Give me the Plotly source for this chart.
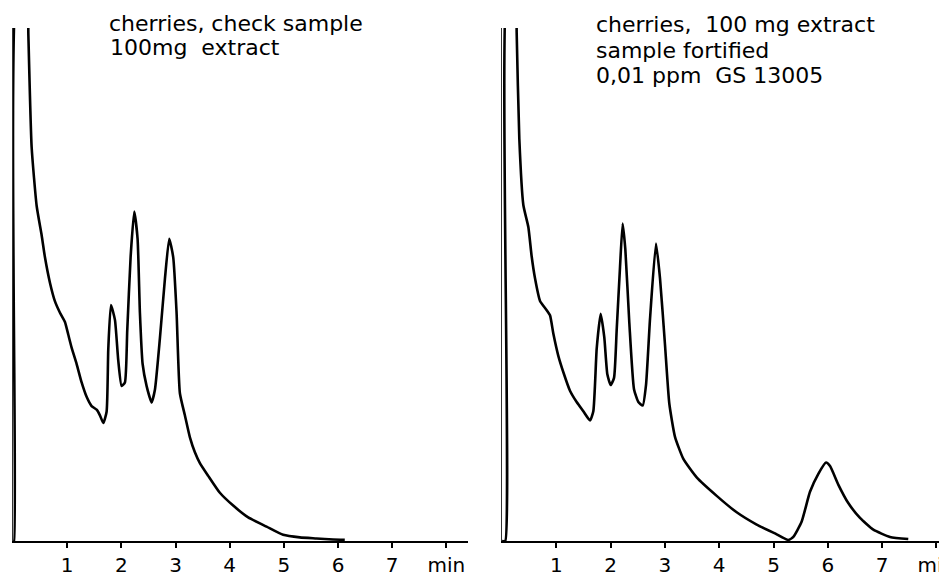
import plotly.graph_objects as go
from plotly.subplots import make_subplots

# retention time (min) and detector response (% of full scale)
check_t = [0.0, 0.02, 0.09, 0.26, 0.283, 0.344, 0.437, 0.529, 0.590, 0.683, 0.775, 0.867,
           0.959, 1.021, 1.082, 1.175, 1.267, 1.359, 1.451, 1.544, 1.605, 1.667, 1.728,
           1.759, 1.808, 1.882, 1.943, 2.005, 2.066, 2.109, 2.171, 2.238, 2.300, 2.343,
           2.393, 2.467, 2.559, 2.620, 2.712, 2.804, 2.884, 2.958, 3.020, 3.081, 3.173,
           3.266, 3.358, 3.450, 3.604, 3.819, 4.065, 4.342, 4.681, 4.987, 5.295, 5.603,
           5.910, 6.125]
check_v = [0.0, 0.0, 110, 110, 99.0, 76.8, 65.3, 59.6, 55.3, 50.3, 46.7, 44.5,
           42.7, 40.2, 37.7, 34.5, 30.9, 28.1, 26.3, 25.6, 24.5, 23.0, 25.2,
           37.4, 46.0, 43.1, 35.2, 30.2, 30.9, 41.0, 55.3, 64.2, 58.9, 44.5,
           34.5, 30.2, 27.0, 29.5, 39.5, 51.0, 58.9, 55.3, 44.5, 28.8, 24.5,
           20.2, 17.3, 15.2, 12.7, 9.4, 6.9, 4.6, 2.8, 1.2, 0.7, 0.5,
           0.3, 0.25]

fort_t = [0.0, 0.06, 0.11, 0.25, 0.27, 0.319, 0.393, 0.485, 0.546, 0.608, 0.700, 0.823,
          0.884, 0.946, 1.037, 1.130, 1.252, 1.375, 1.498, 1.621, 1.682, 1.744, 1.817,
          1.884, 1.940, 2.002, 2.063, 2.112, 2.173, 2.222, 2.271, 2.345, 2.431, 2.511,
          2.591, 2.652, 2.726, 2.836, 2.910, 3.002, 3.081, 3.186, 3.340, 3.585, 3.954,
          4.322, 4.690, 5.059, 5.273, 5.365, 5.519, 5.672, 5.826, 5.967, 6.041, 6.193,
          6.377, 6.593, 6.838, 7.145, 7.482]
fort_v = [0.0, 0.0, 110, 110, 99.2, 78.4, 65.5, 61.2, 55.5, 51.2, 46.8, 45.0,
          44.0, 40.4, 36.1, 32.9, 29.3, 27.1, 25.3, 23.5, 25.3, 37.5, 44.3,
          39.7, 32.5, 30.4, 31.8, 41.1, 53.3, 61.9, 56.9, 42.5, 29.6, 27.1,
          26.4, 30.4, 43.3, 58.0, 51.2, 38.2, 26.8, 20.3, 16.0, 12.4, 8.8,
          5.6, 3.2, 1.3, 0.2, 0.8, 3.8, 9.6, 13.1, 15.3, 14.6, 11.0,
          7.4, 4.5, 2.2, 0.8, 0.4]

tick_vals = [1, 2, 3, 4, 5, 6, 7, 8]
tick_text = ["1", "2", "3", "4", "5", "6", "7", "min"]

W, H = 947, 577
OFF = 8  # page body margin pushes the plot down/right by this much
FONT = "DejaVu Sans"


def fx(px):
    return (px - OFF) / W


def fy(py):
    return 1 - (py - OFF) / H


fig = make_subplots(rows=1, cols=2)
fig.add_trace(go.Scatter(x=check_t, y=check_v, mode="lines", line_shape="spline",
                         line=dict(color="black", width=2.6, smoothing=0.5)), row=1, col=1)
fig.add_trace(go.Scatter(x=fort_t, y=fort_v, mode="lines", line_shape="spline",
                         line=dict(color="black", width=2.6, smoothing=0.5)), row=1, col=2)

ydom = [fy(541), fy(28)]
common_x = dict(showgrid=False, zeroline=False, showline=True, linecolor="black", linewidth=2,
                ticks="outside", ticklen=5, tickwidth=1.5, tickcolor="black", automargin=False,
                tickvals=tick_vals, ticktext=tick_text, ticklabelstandoff=0,
                ticklabeloverflow="allow",
                tickfont=dict(family=FONT, size=20, color="black"))
common_y = dict(showgrid=False, zeroline=False, showline=True, linecolor="#333", linewidth=1,
                showticklabels=False, ticks="", range=[0, 100], domain=ydom, automargin=False)

fig.update_xaxes(common_x, range=[0, 8.4], domain=[fx(13), fx(468)], row=1, col=1)
fig.update_xaxes(common_x, range=[0, (W + OFF - 502) / 54.3], domain=[fx(502), 1.0],
                 row=1, col=2)
fig.update_yaxes(common_y, row=1, col=1)
fig.update_yaxes(common_y, row=1, col=2)

labels = [
    (107, 24, "cherries, check sample"),
    (108, 48, "100mg\u00a0 extract"),
    (594, 25, "cherries,\u00a0 100 mg extract"),
    (594, 50, "sample fortified"),
    (594, 75, "0,01 ppm\u00a0 GS 13005"),
]
for px, py, txt in labels:
    fig.add_annotation(x=fx(px), y=fy(py), xref="paper", yref="paper",
                       xanchor="left", yanchor="middle", showarrow=False, text=txt,
                       font=dict(family=FONT, size=22, color="black"))

fig.update_layout(width=W, height=H, showlegend=False, plot_bgcolor="white",
                  paper_bgcolor="white", margin=dict(l=0, r=0, t=0, b=0, autoexpand=False))

fig.write_html("out.html")
